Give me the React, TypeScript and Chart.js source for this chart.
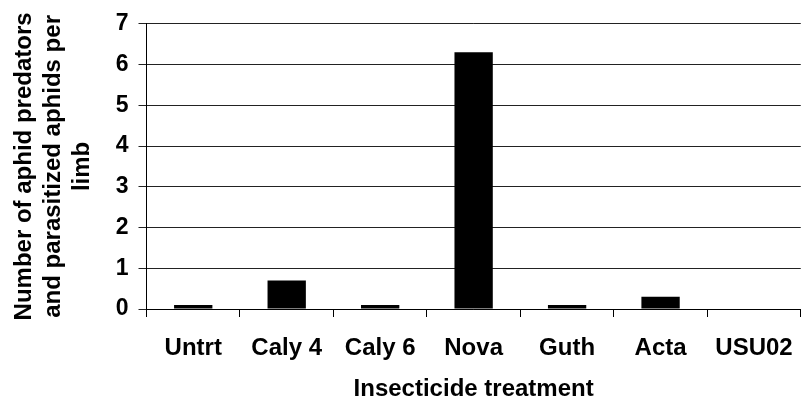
import { useEffect, useRef } from "react";
import { Chart, registerables } from "chart.js";

Chart.register(...registerables);

const categories = ["Untrt", "Caly 4", "Caly 6", "Nova", "Guth", "Acta", "USU02"];
const values = [0.1, 0.7, 0.1, 6.3, 0.1, 0.3, 0];
const yTicks = [0, 1, 2, 3, 4, 5, 6, 7];
const yTitle = ["Number of aphid predators", "and parasitized aphids per", "limb"];
const xTitle = "Insecticide treatment";

const FAMILY = "'Liberation Sans', Arial, Helvetica, sans-serif";

export default function App() {
  const ref = useRef<HTMLCanvasElement>(null);

  useEffect(() => {
    const canvas = ref.current;
    if (!canvas) return;
    const chart = new Chart(canvas, {
      type: "bar",
      data: {
        labels: categories,
        datasets: [
          {
            data: values,
            backgroundColor: "#000000",
            borderWidth: 0,
            barPercentage: 0.41,
            categoryPercentage: 1,
          },
        ],
      },
      options: {
        animation: false,
        responsive: false,
        devicePixelRatio: 1,
        layout: { padding: { top: 22, right: 4, left: 0, bottom: 0 } },
        plugins: {
          legend: { display: false },
          tooltip: { enabled: false },
        },
        scales: {
          x: {
            grid: {
              offset: true,
              drawOnChartArea: false,
              drawTicks: true,
              tickLength: 8,
              color: "#000000",
            },
            border: { color: "#000000", width: 1 },
            ticks: {
              color: "#000000",
              font: { family: FAMILY, size: 24, weight: "bold" },
              padding: 17,
              maxRotation: 0,
              autoSkip: false,
            },
            title: {
              display: true,
              text: xTitle,
              color: "#000000",
              font: { family: FAMILY, size: 24, weight: "bold", lineHeight: 1.1 },
              padding: { top: 0, bottom: 1 },
            },
            afterFit: (s: any) => {
              s.height = 95;
            },
          },
          y: {
            min: 0,
            max: 7,
            afterBuildTicks: (s: any) => {
              s.ticks = yTicks.map((v) => ({ value: v }));
            },
            grid: {
              color: "#222222",
              tickLength: 8,
              drawTicks: true,
            },
            border: { color: "#000000", width: 1 },
            ticks: {
              color: "#000000",
              font: { family: FAMILY, size: 23, weight: "bold" },
              padding: 10,
            },
            title: {
              display: true,
              text: yTitle,
              color: "#000000",
              font: { family: FAMILY, size: 24, weight: "bold", lineHeight: 1.2 },
              padding: { top: 10, bottom: 0 },
            },
            afterFit: (s: any) => {
              s.width = 146.5;
            },
          },
        },
      },
    });
    return () => chart.destroy();
  }, []);

  return (
    <div style={{ position: "fixed", left: 0, top: 0, width: 810, height: 404, background: "#ffffff" }}>
      <canvas ref={ref} width={810} height={404} style={{ display: "block" }} />
    </div>
  );
}
